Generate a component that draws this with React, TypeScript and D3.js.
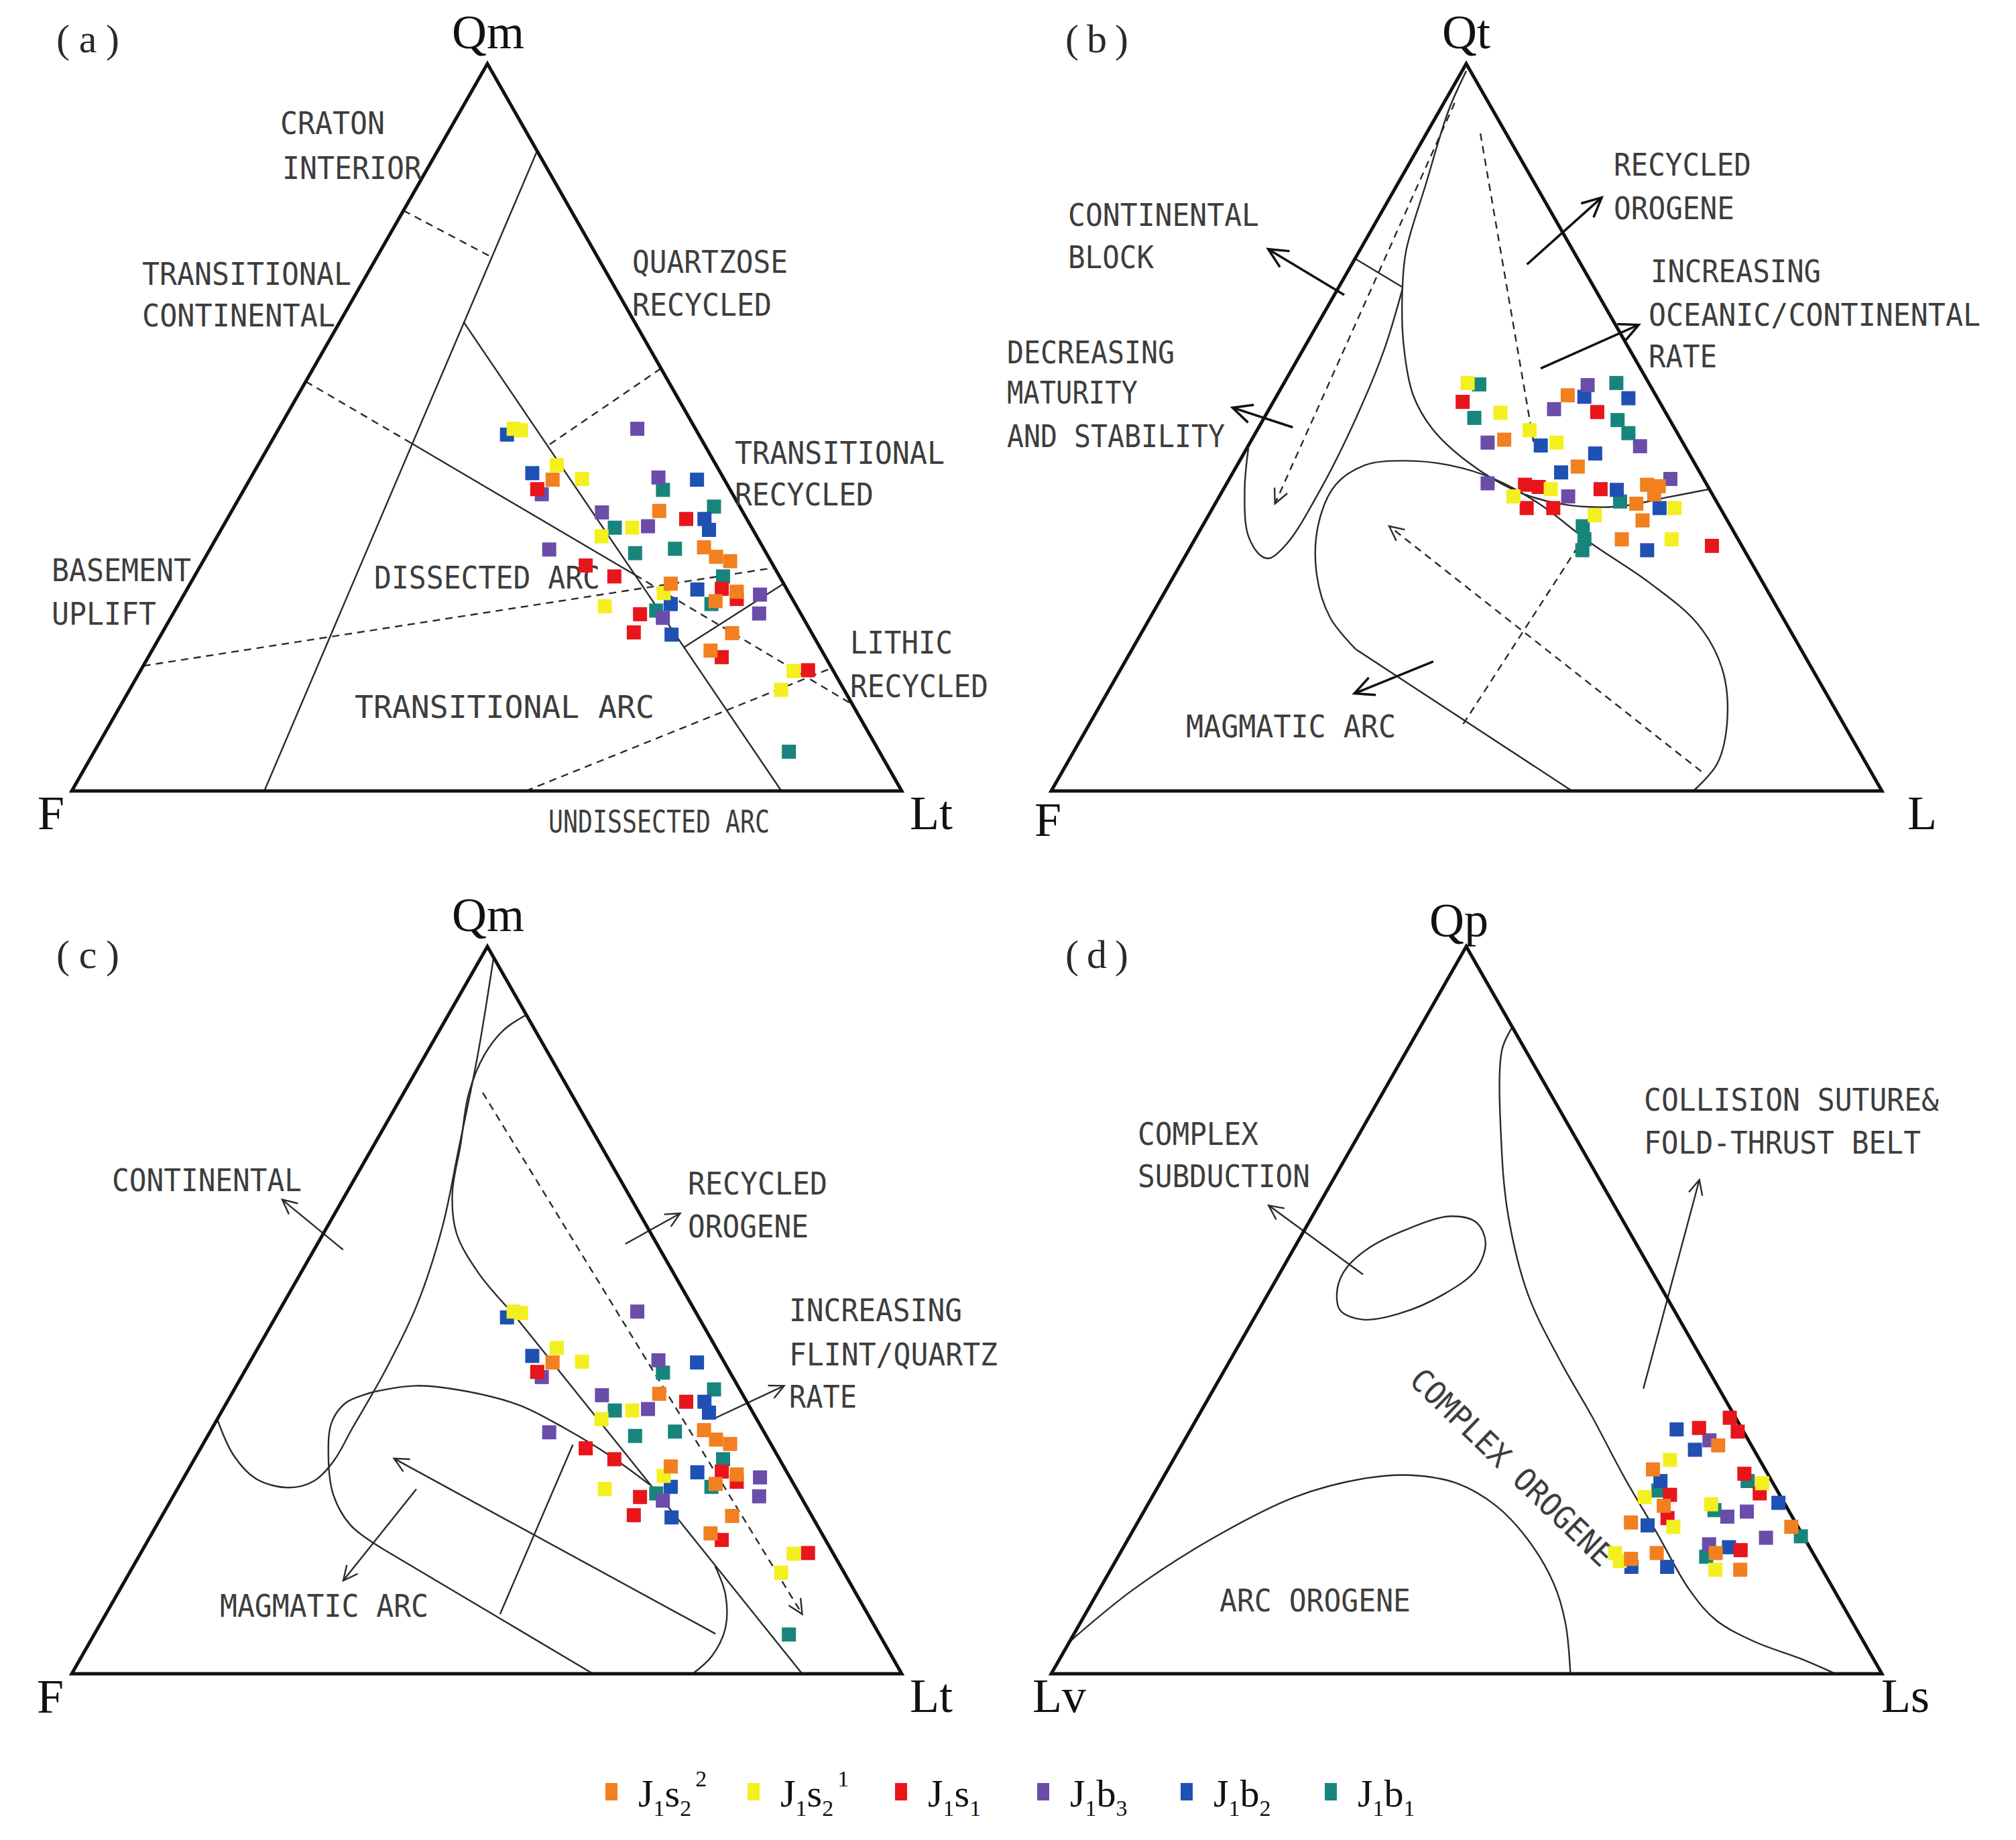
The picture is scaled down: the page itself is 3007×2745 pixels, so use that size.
import * as d3 from "d3";

type TP = [number, number]; // [top-apex %, right-vertex %]

// ---------- series ----------
const SERIES = ["J1s2^2", "J1s2^1", "J1s1", "J1b3", "J1b2", "J1b1"];
const COLORS = ["#f27f20", "#f4ef1f", "#e8151b", "#6b4da9", "#1f50b3", "#17857b"];
const LEGEND_TEXT = [
  ["J", "1", "s", "2", "2"],
  ["J", "1", "s", "2", "1"],
  ["J", "1", "s", "1", ""],
  ["J", "1", "b", "3", ""],
  ["J", "1", "b", "2", ""],
  ["J", "1", "b", "1", ""],
];
const DRAW_ORDER = [5, 4, 3, 2, 1, 0];

// ---------- Qm-F-Lt (panels a, c) ----------
const qmfltJ1s2_2: TP[] = [[42.8, 36.5], [38.5, 51.5], [33.5, 59.4], [32.2, 61.5], [31.6, 63.5], [28.5, 57.9], [27.4, 66.4], [26.1, 64.5], [21.7, 68.7], [19.3, 67.3]];
const qmfltJ1s2_1: TP[] = [[49.8, 28.3], [49.6, 29.3], [44.8, 36.0], [42.9, 40.0], [36.2, 49.4], [35.0, 46.3], [27.2, 57.7], [25.4, 51.5], [16.5, 78.7], [13.9, 78.5]];
const qmfltJ1s1: TP[] = [[41.5, 35.3], [37.4, 55.3], [31.0, 46.4], [29.5, 50.6], [27.8, 64.4], [26.4, 66.9], [24.3, 56.3], [21.8, 56.8], [18.4, 69.1], [16.6, 80.4]];
const qmfltJ1b3: TP[] = [[49.8, 43.2], [40.8, 36.2], [43.1, 49.1], [38.3, 44.7], [36.4, 51.2], [33.2, 40.9], [27.0, 69.4], [23.8, 59.3], [24.4, 70.6]];
const qmfltJ1b2: TP[] = [[49.0, 27.9], [43.7, 33.6], [42.8, 53.9], [37.4, 57.5], [35.9, 58.8], [27.7, 61.5], [25.7, 59.3], [21.5, 61.5]];
const qmfltJ1b1: TP[] = [[41.4, 50.5], [39.1, 57.8], [36.2, 47.3], [32.7, 51.5], [33.3, 56.0], [29.5, 63.7], [25.7, 64.2], [24.8, 58.0], [5.4, 83.7]];
const QMFLT = [qmfltJ1s2_2, qmfltJ1s2_1, qmfltJ1s1, qmfltJ1b3, qmfltJ1b2, qmfltJ1b1];

// ---------- Qt-F-L (panel b) ----------
const qtflJ1s2_2: TP[] = [[54.4, 35.0], [48.3, 30.4], [44.6, 41.1], [42.1, 50.7], [41.9, 52.2], [40.8, 52.2], [39.5, 50.7], [37.2, 52.6], [34.6, 51.4]];
const qtflJ1s2_1: TP[] = [[56.1, 22.1], [52.0, 28.1], [49.6, 32.8], [47.9, 36.9], [41.5, 39.4], [38.9, 55.6], [40.5, 35.4], [37.9, 46.5], [34.6, 57.4]];
const qtflJ1s1: TP[] = [[53.5, 22.8], [52.1, 39.7], [42.1, 36.0], [41.8, 37.8], [41.5, 45.4], [38.9, 37.8], [38.9, 41.0], [33.7, 62.7]];
const qtflJ1b3: TP[] = [[55.8, 36.7], [52.5, 34.3], [47.4, 47.2], [47.9, 28.6], [42.3, 31.4], [40.5, 42.0], [42.9, 53.1]];
const qtflJ1b2: TP[] = [[54.2, 37.1], [54.0, 42.5], [47.5, 35.2], [46.4, 42.3], [43.8, 39.5], [41.4, 47.4], [38.9, 53.8], [33.1, 55.2]];
const qtflJ1b1: TP[] = [[55.9, 23.6], [51.3, 25.3], [56.1, 40.0], [51.0, 42.7], [49.2, 44.9], [39.8, 48.6], [36.4, 45.8], [34.6, 46.9], [33.1, 47.4]];
const QTFL = [qtflJ1s2_2, qtflJ1s2_1, qtflJ1s1, qtflJ1b3, qtflJ1b2, qtflJ1b1];

// ---------- Qp-Lv-Ls (panel d) ----------
const qplvlsJ1s2_2: TP[] = [[31.4, 64.6], [28.1, 58.4], [23.1, 62.2], [20.8, 59.4], [20.2, 79.0], [15.8, 61.9], [16.6, 64.6], [16.6, 71.7], [14.3, 75.8]];
const qplvlsJ1s2_1: TP[] = [[29.4, 59.8], [26.2, 72.5], [24.3, 59.3], [23.3, 67.8], [20.2, 64.8], [16.6, 59.6], [15.5, 60.7], [14.3, 72.8]];
const qplvlsJ1s1: TP[] = [[35.2, 64.1], [33.3, 66.0], [33.8, 61.1], [27.5, 69.7], [24.8, 72.9], [24.6, 62.2], [21.4, 63.5], [17.0, 74.5]];
const qplvlsJ1b3: TP[] = [[32.1, 63.2], [21.6, 70.6], [22.3, 72.6], [18.7, 76.7], [17.8, 70.3]];
const qplvlsJ1b2: TP[] = [[33.6, 58.5], [30.8, 62.1], [26.5, 60.1], [23.5, 75.8], [20.4, 61.6], [14.7, 62.5], [14.7, 66.8], [17.4, 72.9]];
const qplvlsJ1b1: TP[] = [[26.5, 70.6], [25.2, 60.5], [22.5, 68.6], [18.9, 80.8], [16.1, 70.8]];
const QPLVLS = [qplvlsJ1s2_2, qplvlsJ1s2_1, qplvlsJ1s1, qplvlsJ1b3, qplvlsJ1b2, qplvlsJ1b1];

// ---------- field boundaries (ternary coords) ----------
type Bound = { pts: TP[]; dash?: boolean; curve?: boolean; closed?: boolean; arrow?: boolean; note?: boolean };

const A_LINES: Bound[] = [
  { pts: [[88, 12], [0, 23.2]] },
  { pts: [[64.5, 14.9], [0, 85.5]] },
  { pts: [[56.3, 0], [47.9, 16.8]], dash: true },
  { pts: [[47.9, 16.8], [29.7, 53.0]] },
  { pts: [[29.7, 53.0], [11.9, 88.1]], dash: true },
  { pts: [[79.8, 0], [73.6, 13.4]], dash: true },
  { pts: [[58.1, 41.9], [47.5, 33.6]], dash: true },
  { pts: [[17.2, 0], [30.7, 69.3]], dash: true },
  { pts: [[28.5, 71.5], [19.8, 63.9]] },
  { pts: [[0, 54.7], [16.9, 83.1]], dash: true },
];

const B_LINES: Bound[] = [
  { pts: [[99, 0.5], [93.5, 1.1], [83.5, 3.4], [74.3, 5.6], [69.0, 7.8], [61.3, 11.8], [54.4, 16.4], [49.8, 21.0], [45.2, 27.6], [41.4, 35.0], [39.5, 41.4], [39.1, 48.6], [40.4, 54.1], [41.5, 58.5]], curve: true },
  { pts: [[47.1, 0.2], [41.4, 2.6], [35.2, 6.1], [32.4, 9.0], [32.0, 10.3], [34.1, 11.4], [41.4, 11.7], [51.0, 11.1], [60.5, 9.8], [69.0, 7.8]], curve: true },
  { pts: [[73.2, 0], [69.3, 7.6]] },
  { pts: [[94.6, 1.3], [39.5, 7.2]], dash: true, arrow: true },
  { pts: [[90.4, 6.5], [47.5, 34.4]], dash: true },
  { pts: [[0, 62.7], [19.5, 26.9]] },
  { pts: [[19.5, 26.9], [23.8, 21.7], [29.9, 17.0], [36.8, 13.8], [42.1, 13.2], [44.8, 15.4], [45.4, 19.8], [44.8, 25.5], [42.9, 31.9], [39.5, 39.0], [34.1, 47.9], [28.7, 57.6], [23.0, 66.3], [16.9, 72.3], [10.0, 76.4], [3.8, 78.3], [0, 77.3]], curve: true },
  { pts: [[9.2, 45.0], [34.6, 46.7]], dash: true },
  { pts: [[2.7, 76.9], [36.4, 22.5]], dash: true, arrow: true },
  { pts: [[68.2, 1.2], [74.5, -11.1]], arrow: true, note: true },
  { pts: [[50.0, 4.1], [52.7, -4.5]], arrow: true, note: true },
  { pts: [[72.4, 21.1], [81.6, 25.5]], arrow: true, note: true },
  { pts: [[58.1, 29.9], [64.1, 38.7]], arrow: true, note: true },
  { pts: [[17.8, 37.1], [13.4, 29.8]], arrow: true, note: true },
];

const C_LINES: Bound[] = [
  { pts: [[35.0, 0], [30.0, 4.5], [26.8, 8.8], [25.6, 13.3], [26.5, 15.9], [29.2, 16.9], [33.8, 16.9], [41.5, 16.9], [50.7, 16.2], [61.4, 13.9], [72.1, 10.5], [85.1, 6.3], [98.5, 1.5]], curve: true },
  { pts: [[90.6, 9.4], [88.5, 7.7], [85.1, 7.1], [79.7, 7.9], [72.8, 10.4], [66.0, 12.8], [60.6, 16.0], [55.2, 21.3], [49.5, 28.4]], curve: true },
  { pts: [[49.5, 28.4], [0, 88.0]] },
  { pts: [[38.8, 17.1], [39.6, 21.7], [38.8, 28.3], [36.9, 35.5], [33.8, 42.4], [30.0, 49.8], [26.0, 56.6]], curve: true },
  { pts: [[38.8, 17.1], [37.3, 14.4], [34.6, 14.0], [30.0, 15.9], [24.6, 19.2], [20.4, 23.4], [17.0, 29.2]], curve: true },
  { pts: [[17.0, 29.2], [0, 62.8]] },
  { pts: [[14.8, 70.1], [10.9, 73.3], [6.3, 75.6], [2.4, 75.9], [0, 74.8]], curve: true },
  { pts: [[8.2, 47.5], [31.5, 44.6]] },
  { pts: [[5.5, 74.8], [29.6, 24.0]], arrow: true },
  { pts: [[79.9, 9.5], [8.2, 83.9]], dash: true, arrow: true },
  { pts: [[58.3, 3.5], [65.2, -7.3]], arrow: true },
  { pts: [[59.1, 37.1], [63.3, 41.6]], arrow: true },
  { pts: [[35.0, 59.7], [39.6, 66.0]], arrow: true },
  { pts: [[25.4, 28.8], [12.8, 26.3]], arrow: true },
];

const D_LINES: Bound[] = [
  { pts: [[88.9, 11.1], [85.8, 11.4], [72.1, 18.2], [62.9, 23.6], [52.2, 31.3], [43.0, 39.8], [35.3, 47.5], [26.9, 55.6], [19.3, 63.3], [11.6, 71.0], [7.4, 76.3], [4.4, 82.5], [2.1, 89.1], [0, 94.4]], curve: true },
  { pts: [[4.4, 0], [11.6, 4.1], [18.5, 10.0], [24.3, 17.2], [26.9, 24.5], [27.3, 29.7], [26.2, 35.7], [23.1, 42.0], [18.5, 48.1], [12.4, 54.3], [7.0, 58.4], [0, 62.5]], curve: true },
  { pts: [[52.2, 8.3], [55.2, 7.6], [58.3, 8.8], [61.0, 12.1], [62.9, 16.6], [62.1, 20.1], [59.4, 22.6], [55.6, 23.4], [52.2, 21.2], [49.5, 17.1], [48.7, 13.2], [49.9, 9.9]], curve: true, closed: true },
  { pts: [[54.9, 10.1], [64.4, -6.0]], arrow: true },
  { pts: [[39.2, 51.7], [67.9, 44.1]], arrow: true },
];

// ---------- labels: [text, x, baseline, width] ----------
type Lab = [string, number, number, number];
const A_LABELS: Lab[] = [
  ["CRATON", 418, 200, 156], ["INTERIOR", 421, 267, 208],
  ["TRANSITIONAL", 212, 425, 312], ["CONTINENTAL", 212, 487, 288],
  ["QUARTZOSE", 943, 407, 232], ["RECYCLED", 943, 471, 208],
  ["TRANSITIONAL", 1096, 692, 313], ["RECYCLED", 1096, 754, 207],
  ["BASEMENT", 77, 867, 208], ["UPLIFT", 77, 932, 156],
  ["DISSECTED ARC", 558, 878, 337], ["TRANSITIONAL ARC", 529, 1071, 447],
  ["LITHIC", 1268, 975, 153], ["RECYCLED", 1268, 1040, 206],
  ["UNDISSECTED ARC", 818, 1242, 330],
];
const B_LABELS: Lab[] = [
  ["CONTINENTAL", 1593, 337, 285], ["BLOCK", 1593, 400, 128],
  ["DECREASING", 1502, 542, 250], ["MATURITY", 1502, 602, 195], ["AND STABILITY", 1502, 667, 325],
  ["RECYCLED", 2407, 262, 205], ["OROGENE", 2407, 327, 180],
  ["INCREASING", 2462, 421, 254], ["OCEANIC/CONTINENTAL", 2459, 486, 495], ["RATE", 2459, 548, 102],
  ["MAGMATIC ARC", 1769, 1100, 313],
];
const C_LABELS: Lab[] = [
  ["CONTINENTAL", 167, 1777, 283],
  ["RECYCLED", 1026, 1782, 208], ["OROGENE", 1026, 1846, 180],
  ["INCREASING", 1177, 1971, 258], ["FLINT/QUARTZ", 1177, 2037, 311], ["RATE", 1177, 2100, 101],
  ["MAGMATIC ARC", 328, 2412, 311],
];
const D_LABELS: Lab[] = [
  ["COMPLEX", 1697, 1708, 180], ["SUBDUCTION", 1697, 1771, 257],
  ["COLLISION SUTURE&", 2452, 1657, 440], ["FOLD-THRUST BELT", 2452, 1721, 413],
  ["ARC OROGENE", 1819, 2404, 285],
];

type Panel = {
  tag: string; tagPos: [number, number];
  l: [number, number]; r: [number, number]; t: [number, number];
  names: [string, number, number, string][];
  points: TP[][]; lines: Bound[]; labels: Lab[];
};

const PANELS: Panel[] = [
  { tag: "(a)", tagPos: [84, 78], l: [107, 1180], r: [1345, 1180], t: [727, 95],
    names: [["Qm", 728, 72, "middle"], ["F", 56, 1237, "start"], ["Lt", 1357, 1237, "start"]],
    points: QMFLT, lines: A_LINES, labels: A_LABELS },
  { tag: "(b)", tagPos: [1589, 78], l: [1568, 1180], r: [2807, 1180], t: [2187, 95],
    names: [["Qt", 2187, 72, "middle"], ["F", 1543, 1247, "start"], ["L", 2845, 1237, "start"]],
    points: QTFL, lines: B_LINES, labels: B_LABELS },
  { tag: "(c)", tagPos: [84, 1444], l: [107, 2497], r: [1345, 2497], t: [727, 1412],
    names: [["Qm", 728, 1389, "middle"], ["F", 55, 2555, "start"], ["Lt", 1357, 2554, "start"]],
    points: QMFLT, lines: C_LINES, labels: C_LABELS },
  { tag: "(d)", tagPos: [1589, 1444], l: [1568, 2497], r: [2807, 2497], t: [2187, 1412],
    names: [["Qp", 2176, 1397, "middle"], ["Lv", 1540, 2554, "start"], ["Ls", 2806, 2554, "start"]],
    points: QPLVLS, lines: D_LINES, labels: D_LABELS },
];

const LABEL_FONT = "'DejaVu Sans Mono', 'Liberation Mono', monospace";
const SERIF = "'Liberation Serif', 'DejaVu Serif', serif";

function projector(p: Panel) {
  const qy = d3.scaleLinear().domain([0, 100]).range([p.l[1], p.t[1]]);
  const lx = d3.scaleLinear().domain([0, 100]).range([0, p.r[0] - p.l[0]]);
  const qx = d3.scaleLinear().domain([0, 100]).range([0, p.t[0] - p.l[0]]);
  return ([q, l]: TP): [number, number] => [p.l[0] + lx(l) + qx(q), qy(q)];
}

function arrowHead(a: [number, number], b: [number, number], len = 30, spread = 0.45) {
  const ang = Math.atan2(b[1] - a[1], b[0] - a[0]);
  const p1 = [b[0] - len * Math.cos(ang - spread), b[1] - len * Math.sin(ang - spread)];
  const p2 = [b[0] - len * Math.cos(ang + spread), b[1] - len * Math.sin(ang + spread)];
  return `M${p1[0]},${p1[1]}L${b[0]},${b[1]}L${p2[0]},${p2[1]}`;
}

function TernaryPanel({ p }: { p: Panel }) {
  const proj = projector(p);
  const SZ = 21;
  return (
    <g>
      {/* boundaries */}
      {p.lines.map((ln, i) => {
        const xy = ln.pts.map(proj);
        const curve = ln.closed
          ? d3.curveCatmullRomClosed.alpha(0.5)
          : ln.curve
          ? d3.curveCatmullRom.alpha(0.5)
          : d3.curveLinear;
        const d = d3.line().curve(curve)(xy) || "";
        const sw = ln.note ? 3.5 : 2.4;
        const color = ln.note ? "#111" : "#2a2a2a";
        return (
          <g key={i}>
            <path d={d} fill="none" stroke={color} strokeWidth={sw}
              strokeDasharray={ln.dash ? "11 8" : undefined} />
            {ln.arrow && (
              <path d={arrowHead(xy[xy.length - 2], xy[xy.length - 1], ln.note ? 32 : 24)}
                fill="none" stroke={color} strokeWidth={sw} />
            )}
          </g>
        );
      })}
      {/* outline */}
      <path d={`M${p.l[0]},${p.l[1]}L${p.t[0]},${p.t[1]}L${p.r[0]},${p.r[1]}Z`}
        fill="none" stroke="#111" strokeWidth={5} strokeLinejoin="miter" />
      {/* region labels */}
      {p.labels.map(([txt, x, y, w], i) => (
        <text key={i} x={x} y={y} fontFamily={LABEL_FONT} fontSize={47} fill="#3d3d3d"
          textLength={w} lengthAdjust="spacingAndGlyphs">{txt}</text>
      ))}
      {p.tag === "(d)" && (
        <text transform="translate(2100,2062) rotate(44)" fontFamily={LABEL_FONT} fontSize={47}
          fill="#3d3d3d" textLength={400} lengthAdjust="spacingAndGlyphs">COMPLEX OROGENE</text>
      )}
      {/* points */}
      {DRAW_ORDER.map((si) =>
        p.points[si].map((pt, j) => {
          const [x, y] = proj(pt);
          return <rect key={`${si}-${j}`} x={x - SZ / 2} y={y - SZ / 2} width={SZ} height={SZ} fill={COLORS[si]} />;
        })
      )}
      {/* vertex names */}
      {p.names.map(([n, x, y, anchor], i) => (
        <text key={i} x={x} y={y} fontFamily={SERIF} fontSize={72} fill="#111"
          textAnchor={anchor as any}>{n}</text>
      ))}
      <text x={p.tagPos[0]} y={p.tagPos[1]} fontFamily={SERIF} fontSize={60}
        fill="#2a2a2a" textLength={94} lengthAdjust="spacing">{p.tag}</text>
    </g>
  );
}

const LEGEND_X = [912, 1124, 1344, 1556, 1770, 1985];

function Legend() {
  const y = 2673;
  return (
    <g>
      {SERIES.map((s, i) => {
        const [a, s1, b, s2, sup] = LEGEND_TEXT[i];
        return (
          <g key={s}>
            <rect x={LEGEND_X[i] - 9} y={y - 13} width={18} height={26} fill={COLORS[i]} />
            <text x={LEGEND_X[i] + 40} y={y + 22} fontFamily={SERIF} fontSize={58} fill="#111">
              <tspan>{a}</tspan>
              <tspan fontSize={34} dy={14}>{s1}</tspan>
              <tspan dy={-14}>{b}</tspan>
              <tspan fontSize={34} dy={14}>{s2}</tspan>
              {sup && <tspan fontSize={34} dy={-44} dx={6}>{sup}</tspan>}
            </text>
          </g>
        );
      })}
    </g>
  );
}

export default function App() {
  return (
    <div style={{ position: "absolute", left: 0, top: 0, background: "#fff" }}>
      <svg width={3007} height={2745} viewBox="0 0 3007 2745" style={{ display: "block" }}>
        <rect width={3007} height={2745} fill="#fff" />
        {PANELS.map((p) => (
          <TernaryPanel key={p.tag} p={p} />
        ))}
        <Legend />
      </svg>
    </div>
  );
}
